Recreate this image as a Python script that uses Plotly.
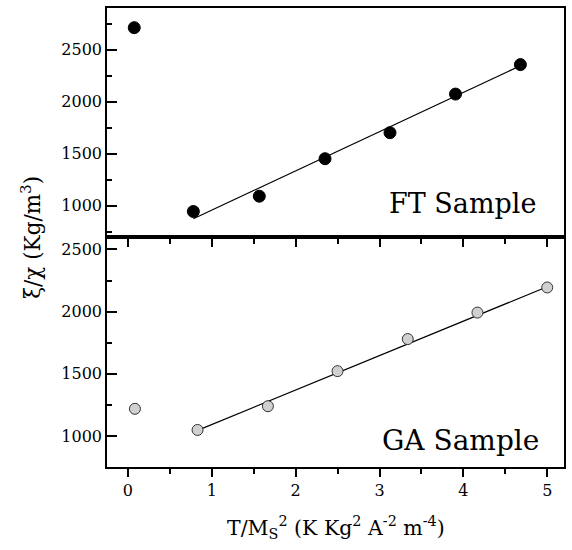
import plotly.graph_objects as go
from plotly.subplots import make_subplots

# FT sample (top panel)
ft_x = [0.075, 0.78, 1.566, 2.35, 3.125, 3.906, 4.68]
ft_y = [2711, 945, 1092, 1452, 1702, 2073, 2356]
ft_fit_x = [0.78, 4.68]
ft_fit_y = [875, 2346]

# GA sample (bottom panel)
ga_x = [0.083, 0.83, 1.669, 2.499, 3.337, 4.168, 5.0]
ga_y = [1218, 1048, 1239, 1521, 1779, 1992, 2194]
ga_fit_x = [0.83, 5.0]
ga_fit_y = [1045, 2200]

x_ticks = [0, 1, 2, 3, 4, 5]
ft_yticks = [1000, 1500, 2000, 2500]
ga_yticks = [1000, 1500, 2000, 2500]

FONT = "DejaVu Serif"

fig = make_subplots(rows=2, cols=1, shared_xaxes=True, vertical_spacing=0)

fig.add_trace(go.Scatter(x=ft_fit_x, y=ft_fit_y, mode="lines",
                         line=dict(color="black", width=1.2), showlegend=False), row=1, col=1)
fig.add_trace(go.Scatter(x=ft_x, y=ft_y, mode="markers",
                         marker=dict(color="black", size=12, line=dict(color="black", width=1)),
                         showlegend=False), row=1, col=1)
fig.add_trace(go.Scatter(x=ga_fit_x, y=ga_fit_y, mode="lines",
                         line=dict(color="black", width=1.2), showlegend=False), row=2, col=1)
fig.add_trace(go.Scatter(x=ga_x, y=ga_y, mode="markers",
                         marker=dict(color="#d0d0d0", size=11, line=dict(color="#333333", width=1)),
                         showlegend=False), row=2, col=1)

axis_common = dict(showgrid=False, zeroline=False, showline=True, linecolor="black",
                   linewidth=1.5, mirror=True, tickcolor="black",
                   tickfont=dict(family=FONT, size=16, color="black"))

fig.update_xaxes(range=[-0.25, 5.2], tickvals=x_ticks, ticks="outside", ticklen=8, tickwidth=1.5,
                 minor=dict(dtick=0.5, tick0=0, ticks="outside", ticklen=5, tickwidth=1.5, tickcolor="black"),
                 **axis_common)
fig.update_xaxes(showticklabels=False, row=1, col=1)

fig.update_yaxes(ticks="inside", ticklen=10, tickwidth=1.5, **axis_common)
fig.update_yaxes(range=[700, 2900], tickvals=ft_yticks,
                 minor=dict(dtick=250, tick0=0, ticks="inside", ticklen=5, tickwidth=1.5, tickcolor="black"),
                 row=1, col=1)
fig.update_yaxes(range=[750, 2600], tickvals=ga_yticks,
                 minor=dict(dtick=250, tick0=0, ticks="inside", ticklen=5, tickwidth=1.5, tickcolor="black"),
                 row=2, col=1)

fig.update_layout(
    width=572, height=550,
    margin=dict(l=107, r=6, t=8, b=83),
    plot_bgcolor="white", paper_bgcolor="white",
    font=dict(family=FONT, color="black"),
)
fig.layout.yaxis.domain = [0.5011, 1.0]
fig.layout.yaxis2.domain = [0.0, 0.5011]

fig.add_annotation(text="FT Sample", xref="x", yref="y", x=4.89, y=1020,
                   xanchor="right", yanchor="middle", showarrow=False,
                   font=dict(family=FONT, size=27, color="black"))
fig.add_annotation(text="GA Sample", xref="x2", yref="y2", x=4.92, y=960,
                   xanchor="right", yanchor="middle", showarrow=False,
                   font=dict(family=FONT, size=28, color="black"))
fig.add_annotation(text="ξ/χ (Kg/m<sup>3</sup>)", xref="paper", yref="paper",
                   x=-0.168, y=0.5, textangle=-90, showarrow=False,
                   xanchor="center", yanchor="middle",
                   font=dict(family=FONT, size=21.5, color="black"))
fig.add_annotation(text="T/M<sub>S</sub><sup>2</sup> (K Kg<sup>2</sup> A<sup>-2</sup> m<sup>-4</sup>)",
                   xref="paper", yref="paper", x=0.5, y=-0.131, showarrow=False,
                   xanchor="center", yanchor="middle",
                   font=dict(family=FONT, size=20.5, color="black"))

fig.write_html("out.html", config={"displayModeBar": False},
               post_script="document.body.style.margin='0';document.body.style.overflow='hidden';")
